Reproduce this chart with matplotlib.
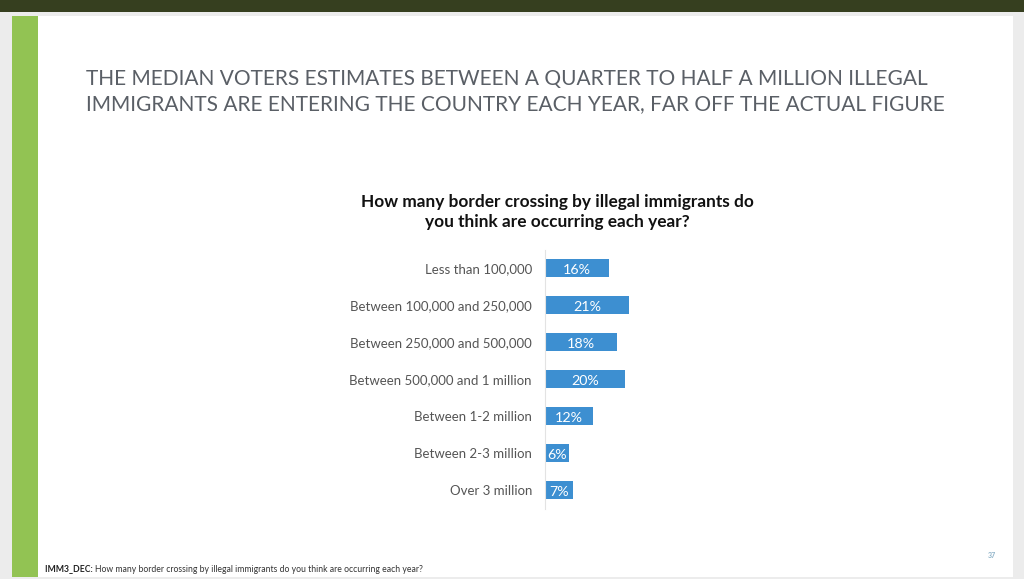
import matplotlib
matplotlib.use("Agg")
import matplotlib.pyplot as plt
from matplotlib.patches import Rectangle

categories = ["Less than 100,000", "Between 100,000 and 250,000", "Between 250,000 and 500,000",
              "Between 500,000 and 1 million", "Between 1-2 million", "Between 2-3 million", "Over 3 million"]
values = [16, 21, 18, 20, 12, 6, 7]
value_labels = ["16%", "21%", "18%", "20%", "12%", "6%", "7%"]

title_lines = ["THE MEDIAN VOTERS ESTIMATES BETWEEN A QUARTER TO HALF A MILLION ILLEGAL",
               "IMMIGRANTS ARE ENTERING THE COUNTRY EACH YEAR, FAR OFF THE ACTUAL FIGURE"]
chart_title = "How many border crossing by illegal immigrants do\nyou think are occurring each year?"

plt.rcParams['font.family'] = ['Lato', 'DejaVu Sans']

W, H = 1024, 579
fig = plt.figure(figsize=(W / 100, H / 100), dpi=100)
fig.patch.set_facecolor("#ececec")

def fx(px): return px / W
def fy(py): return 1 - py / H

# slide background
fig.add_artist(Rectangle((fx(12), fy(577)), fx(1013) - fx(12), fy(16) - fy(577),
                         transform=fig.transFigure, facecolor="white", edgecolor="none", zorder=0))
# top dark band
fig.add_artist(Rectangle((0, fy(12)), 1, 1 - fy(12), transform=fig.transFigure,
                         facecolor="#363f1f", edgecolor="none", zorder=0))
# green stripe
fig.add_artist(Rectangle((fx(12), fy(577)), fx(38) - fx(12), fy(16) - fy(577),
                         transform=fig.transFigure, facecolor="#92c353", edgecolor="none", zorder=1))

# main title
fig.text(fx(86), fy(79), title_lines[0], fontsize=15.0, color="#5a5f66", va="center", ha="left")
fig.text(fx(86), fy(104), title_lines[1], fontsize=15.0, color="#5a5f66", va="center", ha="left")

# chart title
fig.text(fx(557), fy(212), chart_title, fontsize=12.4, fontweight="bold", color="#111111",
         va="center", ha="center", linespacing=1.3)

# bar axes
ax_left, ax_right = 545, 645
ax_top, ax_bot = 249.5, 508.5
ax = fig.add_axes([fx(ax_left), fy(ax_bot), fx(ax_right) - fx(ax_left), fy(ax_top) - fy(ax_bot)])
ax.set_facecolor("none")
ypos = list(range(len(categories)))
ax.barh(ypos, values, height=0.49, color="#3d8fd1", edgecolor="none")
ax.set_xlim(0, 25)
ax.set_ylim(len(categories) - 0.5, -0.5)
for s in ["top", "right", "bottom"]:
    ax.spines[s].set_visible(False)
ax.spines["left"].set_color("#e3e3e3")
ax.spines["left"].set_linewidth(0.8)
ax.set_xticks([])
ax.set_yticks(ypos)
ax.set_yticklabels(categories, fontsize=9.5, color="#555555")
ax.tick_params(axis="y", length=0, pad=9.4)
for y, v, lab in zip(ypos, values, value_labels):
    ax.text(max(v / 2, 1.6), y + 0.05, lab, color="white", fontsize=10.3, va="center", ha="center")

# footer
fig.canvas.draw()
r = fig.canvas.get_renderer()
t1 = fig.text(fx(45), fy(569), "IMM3_DEC: ", fontsize=6.2, fontweight="bold", color="#222222", va="center")
bb = t1.get_window_extent(renderer=r)
fig.text(bb.x1 / W, fy(569), "How many border crossing by illegal immigrants do you think are occurring each year?",
         fontsize=6.2, color="#333333", va="center")
fig.text(fx(992), fy(555), "37", fontsize=5, color="#8fb3c9", va="center", ha="center", fontweight="bold")

fig.savefig("out.png", dpi=100, facecolor=fig.get_facecolor())
